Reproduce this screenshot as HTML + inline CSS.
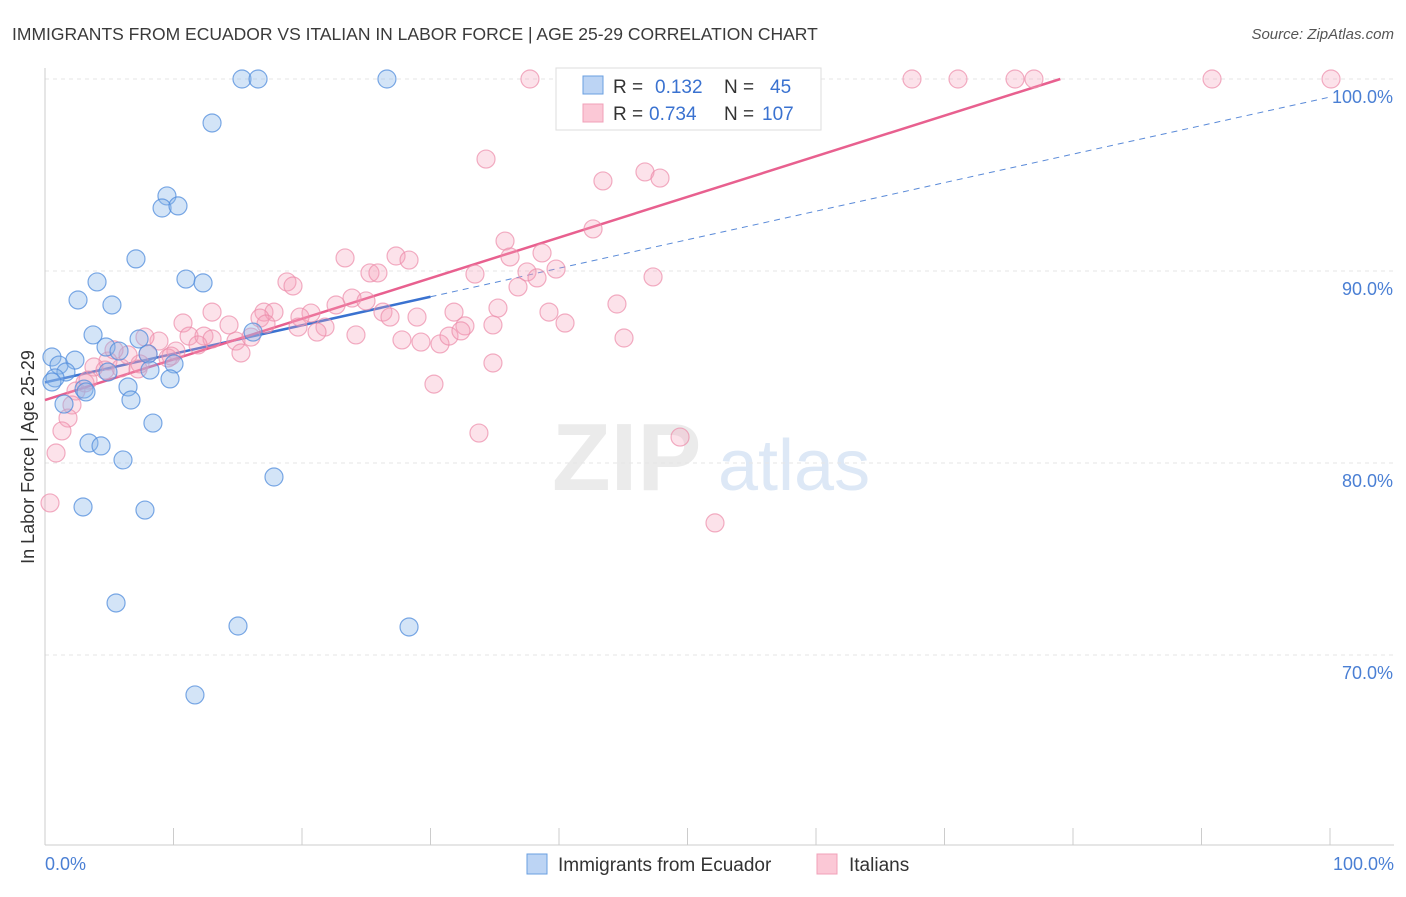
<!DOCTYPE html>
<html><head><meta charset="utf-8"><style>
body{margin:0;background:#fff;font-family:"Liberation Sans",sans-serif;}
svg text{font-family:"Liberation Sans",sans-serif;}
</style></head><body>
<svg id="chart" width="1406" height="892">
<text x="12" y="40" font-size="17.5" fill="#3a3a3a">IMMIGRANTS FROM ECUADOR VS ITALIAN IN LABOR FORCE | AGE 25-29 CORRELATION CHART</text>
<text x="1394" y="39" font-size="15" fill="#555" font-style="italic" text-anchor="end">Source: ZipAtlas.com</text>
<g><text x="552" y="490" font-size="96" fill="#ebebeb" font-family="Liberation Serif" font-weight="bold">ZIP</text><text x="718" y="490" font-size="72" fill="#dde8f6">atlas</text></g>
<g id="grid"></g><g id="axes"></g><g id="lines"></g><g id="pts"></g>
<text transform="translate(34,457) rotate(-90)" font-size="18" fill="#333" text-anchor="middle">In Labor Force | Age 25-29</text>
<text x="45" y="870" font-size="18" fill="#4a7fd4">0.0%</text>
<text x="1394" y="870" font-size="18" fill="#4a7fd4" text-anchor="end">100.0%</text>
<g>
<rect x="556" y="68" width="265" height="62" fill="#fff" stroke="#ddd"/>
<rect x="583" y="76" width="20" height="18" fill="#bcd4f4" stroke="#6a9fe0"/>
<rect x="583" y="104" width="20" height="18" fill="#fbc8d6" stroke="#f0a0b8"/>
<text x="613" y="93" font-size="19" fill="#333">R = <tspan x="655" fill="#3a72d0">0.132</tspan><tspan x="724">N =</tspan><tspan x="770" fill="#3a72d0">45</tspan></text>
<text x="613" y="120" font-size="19" fill="#333">R = <tspan x="649" fill="#3a72d0">0.734</tspan><tspan x="724">N =</tspan><tspan x="762" fill="#3a72d0">107</tspan></text>
</g>
<g>
<rect x="527" y="854" width="20" height="20" fill="#bcd4f4" stroke="#6a9fe0"/>
<text x="558" y="871" font-size="19" fill="#333">Immigrants from Ecuador</text>
<rect x="817" y="854" width="20" height="20" fill="#fbc8d6" stroke="#f0a0b8"/>
<text x="849" y="871" font-size="19" fill="#333">Italians</text>
</g>
</svg>
<script>
const yTicks=[100,90,80,70];
const yTickLabels=["100.0%","90.0%","80.0%","70.0%"];
const xTicks=[0,10,20,30,40,50,60,70,80,90,100];
const bluePx=[[242,79],[258,79],[387,79],[212,123],[167,196],[162,208],[178,206],[136,259],[186,279],[203,283],[97,282],[78,300],[112,305],[93,335],[139,339],[253,332],[106,347],[119,351],[148,354],[174,364],[52,357],[59,365],[75,360],[66,372],[150,370],[108,372],[55,378],[52,382],[170,379],[84,389],[128,387],[86,392],[131,400],[64,404],[153,423],[89,443],[101,446],[123,460],[274,477],[83,507],[145,510],[116,603],[238,626],[409,627],[195,695]];
const pinkPx=[[530,79],[567,79],[577,79],[633,79],[718,79],[742,79],[758,79],[912,79],[958,79],[1015,79],[1034,79],[1212,79],[1331,79],[486,159],[603,181],[645,172],[660,178],[593,229],[505,241],[542,253],[396,256],[409,260],[345,258],[510,257],[556,269],[475,274],[527,272],[537,278],[370,273],[378,273],[653,277],[518,287],[287,282],[293,286],[212,312],[264,312],[274,312],[260,318],[311,313],[336,305],[352,298],[366,301],[325,327],[300,317],[317,332],[298,327],[383,312],[390,317],[417,317],[454,312],[498,308],[549,312],[565,323],[617,304],[183,323],[229,325],[189,336],[204,336],[212,339],[236,341],[251,337],[198,345],[159,341],[145,337],[241,353],[176,351],[266,324],[356,335],[402,340],[421,342],[440,344],[449,336],[465,326],[461,331],[493,325],[624,338],[493,363],[434,384],[479,433],[680,437],[715,523],[148,354],[128,355],[108,361],[94,367],[121,368],[85,383],[76,391],[88,380],[72,405],[68,418],[62,431],[56,453],[50,503],[168,358],[138,369],[105,370],[140,364],[171,356],[114,350]];
const blueX=bluePx.map(p=>+((p[0]-45)/12.85).toFixed(2));
const blueY=bluePx.map(p=>+(100-(p[1]-79)/19.2).toFixed(2));
const pinkX=pinkPx.map(p=>+((p[0]-45)/12.85).toFixed(2));
const pinkY=pinkPx.map(p=>+(100-(p[1]-79)/19.2).toFixed(2));
const blueFit=[84.2,0.1486];
const pinkFit=[83.28,0.2116];
const X=v=>45+v*12.85, Y=v=>79+(100-v)*19.2;
const NS="http://www.w3.org/2000/svg";
function mk(parent,tag,attrs){const e=document.createElementNS(NS,tag);for(const k in attrs)e.setAttribute(k,attrs[k]);document.getElementById(parent).appendChild(e);return e;}
yTicks.forEach((t,i)=>{
 const g=mk('grid','line',{x1:45,x2:1394,y1:Y(t),y2:Y(t),stroke:'#e6e6e6','stroke-dasharray':'4,4'});
 
 
 const tx=mk('grid','text',{x:1393,y:Y(t)+24,'font-size':18,fill:'#4a7fd4','text-anchor':'end'});
 tx.textContent=yTickLabels[i];
 
 
});
let a=mk('axes','line',{x1:45,x2:45,y1:68,y2:845,stroke:'#ccc'});


a=mk('axes','line',{x1:45,x2:1394,y1:845,y2:845,stroke:'#ccc'});


xTicks.forEach(t=>{const l=mk('axes','line',{x1:X(t),x2:X(t),y1:828,y2:845,stroke:'#ccc'});
 
 });
function pts(xs,ys,fill,stroke,name){xs.forEach((x,i)=>{const c=mk('pts','circle',{cx:X(x),cy:Y(ys[i]),r:9,fill:fill,stroke:stroke,'stroke-width':1.2});
 
 });}
pts(pinkX,pinkY,'rgba(244,160,185,0.3)','rgba(236,140,170,0.7)','italians-point');
pts(blueX,blueY,'rgba(140,185,235,0.38)','rgba(80,140,220,0.75)','ecuador-point');
let l=mk('lines','line',{x1:X(0),y1:Y(blueFit[0]),x2:X(30),y2:Y(blueFit[0]+30*blueFit[1]),stroke:'#3a72d0','stroke-width':2.5});


l=mk('lines','line',{x1:X(30),y1:Y(blueFit[0]+30*blueFit[1]),x2:X(100),y2:Y(blueFit[0]+100*blueFit[1]),stroke:'#5a8ad8','stroke-width':1,'stroke-dasharray':'6,5'});


const pEnd=(100-pinkFit[0])/pinkFit[1];
l=mk('lines','line',{x1:X(0),y1:Y(pinkFit[0]),x2:X(pEnd),y2:Y(100),stroke:'#e8608f','stroke-width':2.5});


</script>
</body></html>
